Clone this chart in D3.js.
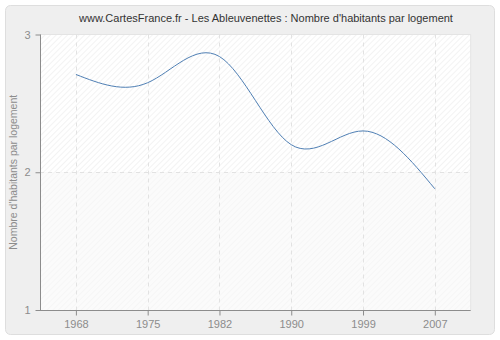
<!DOCTYPE html>
<html>
<head>
<meta charset="utf-8">
<script src="https://cdn.jsdelivr.net/npm/d3@7"></script>
<style>
  body { margin: 0; background: #fff; }
  text { font-family: "Liberation Sans", Arial, sans-serif; }
</style>
</head>
<body>
<svg id="chart" width="500" height="340"></svg>
<script>
const years = ["1968", "1975", "1982", "1990", "1999", "2007"];
const values = [2.71, 2.65, 2.84, 2.20, 2.30, 1.88];
const yTicks = [1, 2, 3];
const title = "www.CartesFrance.fr - Les Ableuvenettes : Nombre d'habitants par logement";
const yTitle = "Nombre d'habitants par logement";

const svg = d3.select("#chart");
const margin = { top: 34.5, left: 40, right: 29.5, bottom: 30 };
const plotRight = 470.7;

// outer frame
svg.append("rect")
  .attr("x", 5.5).attr("y", 5.5)
  .attr("width", 489).attr("height", 329)
  .attr("rx", 5)
  .attr("fill", "#efefef")
  .attr("stroke", "#dedede");

// hatch patterns
const defs = svg.append("defs");
const hatch = (id, bg, line) => {
  const p = defs.append("pattern")
    .attr("id", id)
    .attr("patternUnits", "userSpaceOnUse")
    .attr("width", 4).attr("height", 4)
    .attr("patternTransform", "rotate(45)");
  p.append("rect").attr("width", 4).attr("height", 4).attr("fill", bg);
  p.append("line").attr("x1", 0).attr("y1", 0).attr("x2", 0).attr("y2", 4)
    .attr("stroke", line).attr("stroke-width", 1.2);
};
hatch("hatchTop", "#ffffff", "#ececec");
hatch("hatchBottom", "#fbfbfb", "#f3f3f3");

const x = d3.scalePoint()
  .domain(years)
  .range([margin.left, plotRight])
  .padding(0.5);

const y = d3.scaleLinear()
  .domain([1, 3])
  .range([310, margin.top]);

// plot background
svg.append("rect")
  .attr("x", margin.left).attr("y", y(3))
  .attr("width", plotRight - margin.left).attr("height", y(2) - y(3))
  .attr("fill", "url(#hatchTop)");
svg.append("rect")
  .attr("x", margin.left).attr("y", y(2))
  .attr("width", plotRight - margin.left).attr("height", y(1) - y(2))
  .attr("fill", "url(#hatchBottom)");

// top/right border
svg.append("line")
  .attr("x1", margin.left).attr("x2", plotRight)
  .attr("y1", y(3)).attr("y2", y(3))
  .attr("stroke", "#e4e4e4");
svg.append("line")
  .attr("x1", plotRight).attr("x2", plotRight)
  .attr("y1", y(3)).attr("y2", y(1))
  .attr("stroke", "#e4e4e4");

// grid
const grid = svg.append("g")
  .attr("stroke", "#e2e2e2")
  .attr("stroke-dasharray", "4,4");
grid.selectAll(".vg")
  .data(years)
  .enter()
  .append("line")
  .attr("x1", (d) => Math.round(x(d)) + 0.5)
  .attr("x2", (d) => Math.round(x(d)) + 0.5)
  .attr("y1", y(3)).attr("y2", y(1));
grid.selectAll(".hg")
  .data([2])
  .enter()
  .append("line")
  .attr("x1", margin.left).attr("x2", plotRight)
  .attr("y1", (d) => Math.round(y(d)) + 0.5)
  .attr("y2", (d) => Math.round(y(d)) + 0.5);

// axes
const xAxis = d3.axisBottom(x).tickSize(5).tickPadding(5);
const xAxisG = svg.append("g")
  .attr("transform", `translate(0,${Math.round(y(1)) + 0.5})`)
  .call(xAxis);

const yAxis = d3.axisLeft(y).tickValues(yTicks).tickSize(5).tickPadding(5)
  .tickFormat(d3.format("d"));
const yAxisG = svg.append("g")
  .attr("transform", `translate(${margin.left + 0.5},0)`)
  .call(yAxis);

[xAxisG, yAxisG].forEach((g) => {
  g.select(".domain").attr("stroke", "#8c8c8c");
  g.selectAll(".tick line").attr("stroke", "#8c8c8c");
  g.selectAll(".tick text")
    .attr("fill", "#8c8c8c")
    .attr("font-size", "11px")
    .attr("font-family", "Liberation Sans, Arial, sans-serif");
});
xAxisG.select(".domain").attr("d", `M${margin.left},0H${plotRight}`);
yAxisG.select(".domain").attr("d", `M0,${y(3)}V${y(1)}`);

// line
const line = d3.line()
  .x((d, i) => x(years[i]))
  .y((d) => y(d))
  .curve(d3.curveNatural);

svg.append("path")
  .datum(values)
  .attr("d", line)
  .attr("fill", "none")
  .attr("stroke", "#4f7fb4")
  .attr("stroke-width", 1);

// titles
svg.append("text")
  .attr("x", 266).attr("y", 22)
  .attr("text-anchor", "middle")
  .attr("font-size", "11px")
  .attr("fill", "#333")
  .text(title);

svg.append("text")
  .attr("transform", `translate(17,${(y(1) + y(3)) / 2}) rotate(-90)`)
  .attr("text-anchor", "middle")
  .attr("font-size", "10.5px")
  .attr("fill", "#8c8c8c")
  .text(yTitle);
</script>
</body>
</html>
